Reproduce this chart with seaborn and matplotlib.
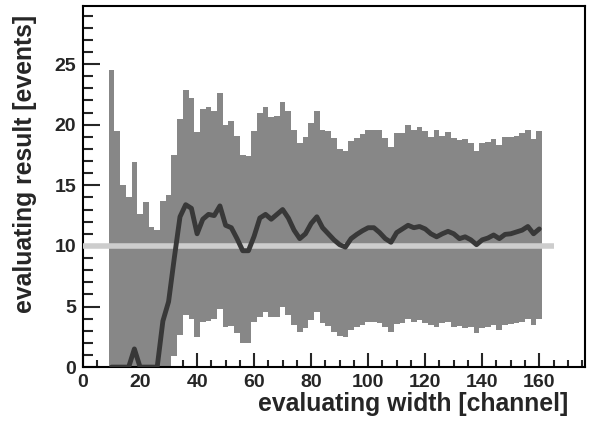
import numpy as np
import pandas as pd
import matplotlib
matplotlib.use("Agg")
import matplotlib.pyplot as plt
import seaborn as sns
from matplotlib.ticker import MultipleLocator

# bin centres (channel width), 2 channels per bin
widths = list(range(10, 162, 2))

# upper edge of the gray band
upper = [24.5, 19.5, 15.0, 14.0, 16.9, 12.6, 13.6, 11.6, 11.3, 13.7,
         14.2, 17.5, 20.5, 22.85, 22.2, 19.4, 21.3, 21.5, 21.15, 22.6,
         20.0, 20.3, 19.1, 17.5, 17.4, 19.5, 21.0, 21.5, 20.6, 20.7,
         21.9, 21.1, 19.6, 18.5, 19.0, 20.1, 21.1, 19.6, 19.5, 18.9,
         18.0, 17.8, 18.65, 18.9, 19.2, 19.55, 19.6, 19.55, 18.9, 18.2,
         19.35, 19.35, 20.0, 19.6, 19.8, 19.5, 19.0, 19.55, 19.1, 19.4,
         18.9, 18.7, 18.8, 18.45, 17.8, 18.45, 18.56, 18.85, 18.3, 18.95,
         19.0, 19.1, 19.3, 19.6, 18.85, 19.5]

# lower edge of the gray band
lower = [0, 0, 0, 0, 0, 0, 0, 0, 0, 0,
         0, 0.9, 2.64, 4.3, 4.0, 2.5, 3.7, 3.8, 4.0, 4.82,
         3.3, 3.4, 2.8, 1.95, 1.95, 3.74, 4.15, 4.56, 4.1, 4.15,
         4.92, 4.3, 3.47, 2.9, 3.19, 3.88, 4.56, 3.6, 3.38, 2.9,
         2.58, 2.5, 3.05, 3.33, 3.47, 3.69, 3.74, 3.6, 3.33, 2.9,
         3.55, 3.6, 4.0, 3.74, 3.88, 3.66, 3.47, 3.33, 3.6, 3.74,
         3.27, 3.38, 3.19, 3.27, 2.78, 3.19, 3.27, 3.47, 3.1, 3.47,
         3.55, 3.6, 3.74, 4.0, 3.47, 3.93]

# evaluating result
result = [0, 0, 0, 0, 1.5, 0, 0, 0, 0, 3.8,
          5.4, 9.0, 12.4, 13.4, 13.1, 11.0, 12.2, 12.6, 12.5, 13.3,
          11.7, 11.5, 10.6, 9.6, 9.6, 10.8, 12.3, 12.6, 12.2, 12.6,
          13.0, 12.3, 11.3, 10.6, 11.0, 11.85, 12.4, 11.5, 11.0, 10.5,
          10.1, 9.9, 10.6, 10.95, 11.25, 11.5, 11.5, 11.1, 10.6, 10.3,
          11.1, 11.4, 11.7, 11.5, 11.6, 11.4, 11.0, 10.75, 11.0, 11.2,
          11.0, 10.6, 10.75, 10.5, 10.1, 10.5, 10.65, 10.9, 10.6, 10.95,
          11.0, 11.15, 11.3, 11.6, 11.0, 11.4]

true_value = 10
true_line_end = 165

df = pd.DataFrame({"width": widths, "result": result})

sns.set_style("ticks")
plt.rcParams["font.family"] = ["Liberation Sans", "DejaVu Sans"]
plt.rcParams["font.weight"] = "bold"

fig = plt.figure(figsize=(5.89, 4.21), dpi=100)
ax = fig.add_axes([0.141, 0.128, 0.852, 0.858])

# step band
edges = np.array(widths, dtype=float) - 1
edges = np.append(edges, widths[-1] + 1)
ax.fill_between(edges, lower + [lower[-1]], upper + [upper[-1]],
                step="post", color="#878787", linewidth=0)

ax.hlines(true_value, 0, true_line_end, color="#cdcdcd", linewidth=4, zorder=3)

sns.lineplot(data=df, x="width", y="result", ax=ax, color="#383838",
             linewidth=3.5, zorder=4)

ax.set_xlim(0, 176)
ax.set_ylim(0, 29.8)
ax.xaxis.set_major_locator(MultipleLocator(20))
ax.xaxis.set_minor_locator(MultipleLocator(5))
ax.yaxis.set_major_locator(MultipleLocator(5))
ax.yaxis.set_minor_locator(MultipleLocator(1))
ax.tick_params(which="both", direction="in", labelsize=14, width=1.5, pad=5)
ax.tick_params(which="major", axis="y", length=12)
ax.tick_params(which="minor", axis="y", length=7)
ax.tick_params(which="major", axis="x", length=10)
ax.tick_params(which="minor", axis="x", length=5)
for lab in ax.get_xticklabels() + ax.get_yticklabels():
    lab.set_fontweight("bold")
for s in ax.spines.values():
    s.set_visible(True)
    s.set_linewidth(1.5)
    s.set_color("black")

ax.set_xlabel("evaluating width [channel]", fontsize=17.8, fontweight="bold",
              loc="right")
ax.set_ylabel("evaluating result [events]", fontsize=17.8, fontweight="bold",
              loc="top")
ax.xaxis.set_label_coords(0.966, -0.069)
ax.yaxis.set_label_coords(-0.092, 0.975)

fig.savefig("out.png", dpi=100)
